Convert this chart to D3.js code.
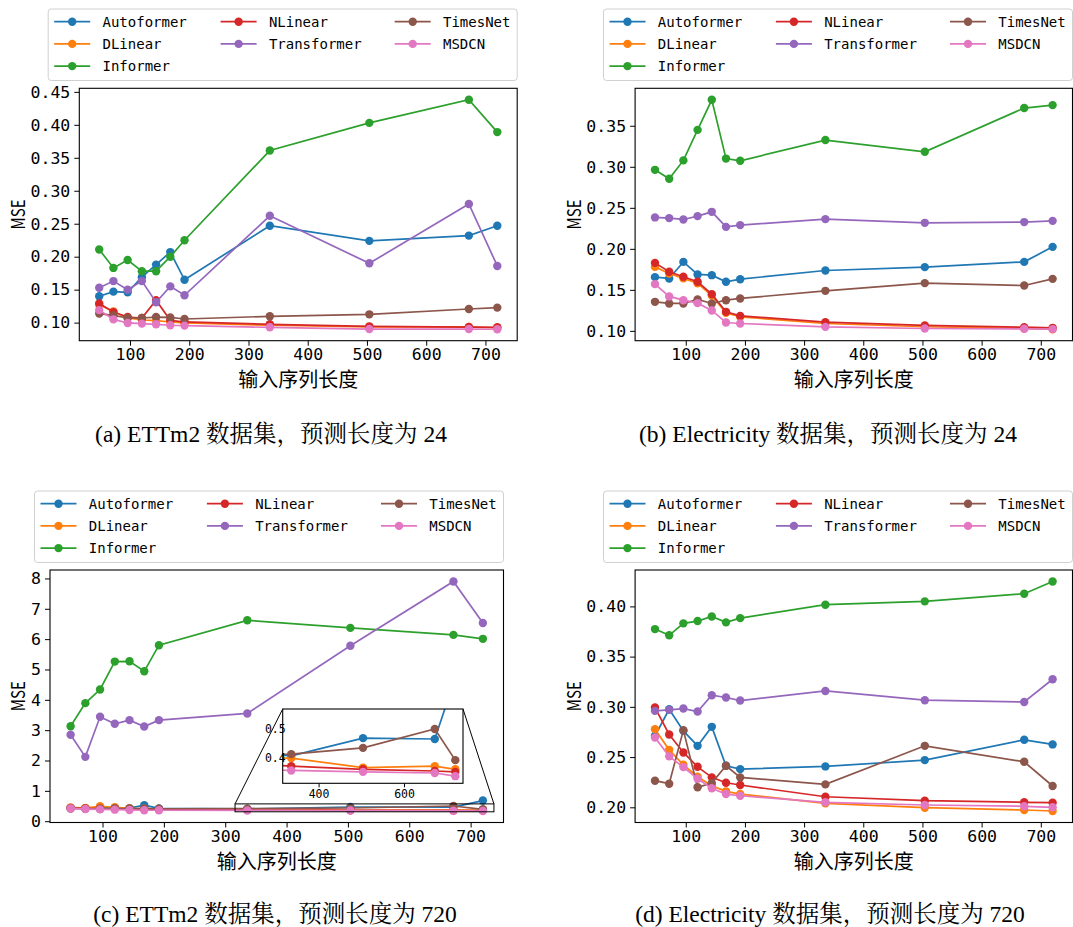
<!DOCTYPE html>
<html><head><meta charset="utf-8">
<script src="https://cdn.jsdelivr.net/npm/d3@7"></script>
<style>body{margin:0;background:#fff}</style>
</head><body>
<svg id="fig" width="1073" height="927"></svg>
<script>
// Input sequence lengths shared by every panel
const inputLengths = [48, 72, 96, 120, 144, 168, 192, 336, 504, 672, 720];
const modelNames = ["Autoformer", "DLinear", "Informer", "NLinear", "Transformer", "TimesNet", "MSDCN"];
const modelColors = ["#1f77b4", "#ff7f0e", "#2ca02c", "#d62728", "#9467bd", "#8c564b", "#e377c2"];
const xTicks = [100, 200, 300, 400, 500, 600, 700];

// MSE per model (rows follow modelNames order)
const ettm2Pred24 = [
  [0.140, 0.147, 0.146, 0.169, 0.188, 0.207, 0.165, 0.247, 0.224, 0.232, 0.247],
  [0.127, 0.117, 0.107, 0.104, 0.103, 0.101, 0.0995, 0.096, 0.0935, 0.0935, 0.092],
  [0.211, 0.183, 0.195, 0.178, 0.178, 0.200, 0.225, 0.361, 0.403, 0.438, 0.389],
  [0.129, 0.116, 0.1085, 0.107, 0.134, 0.1035, 0.101, 0.0975, 0.0944, 0.0933, 0.093],
  [0.153, 0.163, 0.150, 0.163, 0.131, 0.155, 0.1415, 0.262, 0.190, 0.280, 0.186],
  [0.1137, 0.111, 0.107, 0.107, 0.1085, 0.108, 0.1055, 0.1096, 0.1126, 0.1207, 0.1228],
  [0.119, 0.105, 0.0995, 0.0985, 0.0975, 0.096, 0.0955, 0.0929, 0.0903, 0.0903, 0.090]
];
const electricityPred24 = [
  [0.1655, 0.1639, 0.1841, 0.1688, 0.1679, 0.1598, 0.163, 0.1736, 0.1777, 0.1841, 0.2024],
  [0.178, 0.170, 0.164, 0.158, 0.143, 0.122, 0.117, 0.109, 0.105, 0.103, 0.102],
  [0.2963, 0.2854, 0.3078, 0.345, 0.3817, 0.310, 0.3073, 0.3326, 0.3183, 0.3716, 0.3752],
  [0.1829, 0.172, 0.1659, 0.1598, 0.1448, 0.1232, 0.1183, 0.1106, 0.1066, 0.1045, 0.1037],
  [0.2383, 0.2374, 0.2358, 0.2399, 0.2451, 0.2268, 0.2289, 0.2362, 0.2317, 0.2326, 0.2341],
  [0.1354, 0.1334, 0.1334, 0.1383, 0.1334, 0.1374, 0.1395, 0.1488, 0.1582, 0.1553, 0.1634],
  [0.157, 0.142, 0.1374, 0.1338, 0.1249, 0.1102, 0.109, 0.1049, 0.1029, 0.1025, 0.1021]
];
const ettm2Pred720 = [
  [0.44, 0.43, 0.45, 0.44, 0.43, 0.53, 0.42, 0.406, 0.468, 0.465, 0.68],
  [0.45, 0.44, 0.49, 0.46, 0.42, 0.41, 0.40, 0.398, 0.365, 0.37, 0.359],
  [3.13, 3.89, 4.34, 5.26, 5.27, 4.94, 5.80, 6.62, 6.37, 6.14, 6.01],
  [0.43, 0.42, 0.41, 0.41, 0.40, 0.39, 0.38, 0.370, 0.359, 0.353, 0.350],
  [2.85, 2.12, 3.44, 3.21, 3.33, 3.12, 3.33, 3.55, 5.78, 7.90, 6.53],
  [0.42, 0.41, 0.41, 0.42, 0.41, 0.42, 0.41, 0.412, 0.434, 0.500, 0.391],
  [0.42, 0.40, 0.39, 0.38, 0.37, 0.36, 0.36, 0.355, 0.350, 0.346, 0.335]
];
const electricityPred720 = [
  [0.2712, 0.2976, 0.2761, 0.2612, 0.2801, 0.2413, 0.238, 0.2407, 0.247, 0.2672, 0.2626],
  [0.2778, 0.2572, 0.2423, 0.2304, 0.2215, 0.2159, 0.2132, 0.204, 0.1996, 0.1973, 0.1963],
  [0.3774, 0.3712, 0.3831, 0.3854, 0.390, 0.3841, 0.3883, 0.4017, 0.405, 0.4126, 0.4248],
  [0.2993, 0.2725, 0.2546, 0.2403, 0.2298, 0.2244, 0.2222, 0.2105, 0.2066, 0.205, 0.2046],
  [0.296, 0.297, 0.2983, 0.2954, 0.3116, 0.3093, 0.3063, 0.3158, 0.3066, 0.3049, 0.3275],
  [0.2265, 0.2235, 0.2768, 0.2199, 0.2241, 0.2413, 0.2298, 0.2228, 0.2612, 0.2453, 0.2212],
  [0.2695, 0.2507, 0.240, 0.2284, 0.2189, 0.2132, 0.2115, 0.205, 0.2023, 0.201, 0.200]
];

const yTicksA = [0.10, 0.15, 0.20, 0.25, 0.30, 0.35, 0.40, 0.45];
const yTicksB = [0.10, 0.15, 0.20, 0.25, 0.30, 0.35];
const yTicksC = [0, 1, 2, 3, 4, 5, 6, 7, 8];
const yTicksD = [0.20, 0.25, 0.30, 0.35, 0.40];

// Zoomed view inside panel (c)
const insetXRange = [316, 738];
const insetYRange = [0.31, 0.57];
const insetXTicks = [400, 600];
const insetYTicks = [0.4, 0.5];

const captions = [
  "(a) ETTm2 数据集，预测长度为 24",
  "(b) Electricity 数据集，预测长度为 24",
  "(c) ETTm2 数据集，预测长度为 720",
  "(d) Electricity 数据集，预测长度为 720"
];
const xAxisTitle = "输入序列长度";
const yAxisTitle = "MSE";

const panels = [
  {data: ettm2Pred24, yTicks: yTicksA, fmt: d3.format(".2f"), left: 79.3, right: 517.2, top: 88.3, bottom: 340.7, legendTop: 9, capX: 271, capY: 442},
  {data: electricityPred24, yTicks: yTicksB, fmt: d3.format(".2f"), left: 635.1, right: 1072.5, top: 88.3, bottom: 340.7, legendTop: 9, capX: 828, capY: 442},
  {data: ettm2Pred720, yTicks: yTicksC, fmt: d3.format("d"), left: 50, right: 503.5, top: 570, bottom: 822.5, legendTop: 491, capX: 275, capY: 922, inset: true},
  {data: electricityPred720, yTicks: yTicksD, fmt: d3.format(".2f"), left: 635.1, right: 1072.5, top: 570, bottom: 822.5, legendTop: 491, capX: 830, capY: 922}
];

const svg = d3.select("#fig");
const tickFont = "'DejaVu Sans Mono', monospace";
const cjkFont = "'Noto Sans CJK SC', sans-serif";

function padded(lo, hi) {
  const m = (hi - lo) * 0.05;
  return [lo - m, hi + m];
}

function drawSeries(g, data, x, y, r) {
  data.forEach((vals, i) => {
    const pts = inputLengths.map((len, j) => [len, vals[j]]);
    const line = d3.line().x(d => x(d[0])).y(d => y(d[1]));
    g.append("path").attr("d", line(pts)).attr("fill", "none")
      .attr("stroke", modelColors[i]).attr("stroke-width", 1.7);
    g.selectAll(null).data(pts).enter().append("circle")
      .attr("cx", d => x(d[0])).attr("cy", d => y(d[1])).attr("r", r)
      .attr("fill", modelColors[i]);
  });
}

panels.forEach((p, pi) => {
  const allVals = p.data.flat();
  const x = d3.scaleLinear().domain(padded(d3.min(inputLengths), d3.max(inputLengths))).range([p.left, p.right]);
  const y = d3.scaleLinear().domain(padded(d3.min(allVals), d3.max(allVals))).range([p.bottom, p.top]);
  const g = svg.append("g");

  drawSeries(g.append("g"), p.data, x, y, 4.2);

  // axes
  const xAxis = d3.axisBottom(x).tickValues(xTicks).tickSize(5).tickPadding(3).tickFormat(d3.format("d"));
  const yAxis = d3.axisLeft(y).tickValues(p.yTicks).tickSize(5).tickPadding(4).tickFormat(p.fmt);
  const gx = g.append("g").attr("transform", `translate(0,${p.bottom})`).call(xAxis);
  const gy = g.append("g").attr("transform", `translate(${p.left},0)`).call(yAxis);
  [gx, gy].forEach(a => {
    a.select(".domain").remove();
    a.selectAll(".tick line").attr("stroke", "#000").attr("stroke-width", 1);
    a.selectAll(".tick text").attr("fill", "#000").style("font-family", tickFont).style("font-size", "16.5px");
  });
  g.append("rect").attr("x", p.left).attr("y", p.top)
    .attr("width", p.right - p.left).attr("height", p.bottom - p.top)
    .attr("fill", "none").attr("stroke", "#000").attr("stroke-width", 1.1);

  // axis titles
  g.append("text").attr("x", (p.left + p.right) / 2).attr("y", p.bottom + 46)
    .attr("text-anchor", "middle").style("font-family", cjkFont).style("font-size", "20px")
    .text(xAxisTitle);
  const mx = pi % 2 === 0 ? 18 : 574;
  g.append("text").attr("transform", `translate(${mx + 7},${(p.top + p.bottom) / 2}) rotate(-90)`)
    .attr("text-anchor", "middle").style("font-family", cjkFont).style("font-size", "19px")
    .attr("textLength", 30).attr("lengthAdjust", "spacingAndGlyphs")
    .text(yAxisTitle);

  // legend
  const lw = 469, lh = 71.5;
  const lx = p.right - lw, ly = p.legendTop;
  const lg = g.append("g");
  lg.append("rect").attr("x", lx).attr("y", ly).attr("width", lw).attr("height", lh)
    .attr("rx", 3).attr("fill", "#fff").attr("fill-opacity", 0.8)
    .attr("stroke", "#d0d0d0").attr("stroke-width", 1);
  const colX = [6, 172.4, 346.5];
  const layout = [[0, 0], [0, 1], [0, 2], [1, 0], [1, 1], [2, 0], [2, 1]];
  modelNames.forEach((name, i) => {
    const [c, r] = layout[i];
    const hx = lx + colX[c], hy = ly + 12.7 + r * 22.2;
    lg.append("line").attr("x1", hx).attr("x2", hx + 36).attr("y1", hy).attr("y2", hy)
      .attr("stroke", modelColors[i]).attr("stroke-width", 1.7);
    lg.append("circle").attr("cx", hx + 18).attr("cy", hy).attr("r", 4.2).attr("fill", modelColors[i]);
    lg.append("text").attr("x", hx + 48.3).attr("y", hy + 5)
      .style("font-family", tickFont).style("font-size", "14px").text(name);
  });

  // caption
  svg.append("text").attr("x", p.capX).attr("y", p.capY).attr("text-anchor", "middle")
    .style("font-family", "'Liberation Serif', 'Noto Serif CJK SC', 'Noto Sans CJK SC', serif")
    .style("font-size", "23.5px").text(captions[pi]);

  if (p.inset) {
    const box = {left: 282.7, right: 463, top: 709, bottom: 783.3};
    const ix = d3.scaleLinear().domain(insetXRange).range([box.left, box.right]);
    const iy = d3.scaleLinear().domain(insetYRange).range([box.bottom, box.top]);
    // indicator rectangle on the main axes and connector lines
    const rx0 = x(insetXRange[0]), rx1 = x(insetXRange[1]);
    const ry0 = y(insetYRange[1]), ry1 = y(insetYRange[0]);
    g.append("rect").attr("x", rx0).attr("y", ry0).attr("width", rx1 - rx0).attr("height", ry1 - ry0)
      .attr("fill", "none").attr("stroke", "#000").attr("stroke-width", 1);
    g.append("line").attr("x1", rx0).attr("y1", ry0).attr("x2", box.left).attr("y2", box.top)
      .attr("stroke", "#000").attr("stroke-width", 1);
    g.append("line").attr("x1", rx1).attr("y1", ry0).attr("x2", box.right).attr("y2", box.top)
      .attr("stroke", "#000").attr("stroke-width", 1);
    const ig = g.append("g");
    ig.append("rect").attr("x", box.left).attr("y", box.top)
      .attr("width", box.right - box.left).attr("height", box.bottom - box.top).attr("fill", "#fff");
    svg.append("defs").append("clipPath").attr("id", "insetClip").append("rect")
      .attr("x", box.left).attr("y", box.top)
      .attr("width", box.right - box.left).attr("height", box.bottom - box.top);
    drawSeries(ig.append("g").attr("clip-path", "url(#insetClip)"), p.data, ix, iy, 4.2);
    const iax = ig.append("g").attr("transform", `translate(0,${box.bottom})`)
      .call(d3.axisBottom(ix).tickValues(insetXTicks).tickSize(4).tickPadding(3).tickFormat(d3.format("d")));
    const iay = ig.append("g").attr("transform", `translate(${box.left},0)`)
      .call(d3.axisLeft(iy).tickValues(insetYTicks).tickSize(0).tickPadding(-3).tickFormat(d3.format(".1f")));
    [iax, iay].forEach(a => {
      a.select(".domain").remove();
      a.selectAll(".tick line").attr("stroke", "#000");
      a.selectAll(".tick text").attr("fill", "#000").style("font-family", tickFont).style("font-size", "11.5px");
    });
    ig.append("rect").attr("x", box.left).attr("y", box.top)
      .attr("width", box.right - box.left).attr("height", box.bottom - box.top)
      .attr("fill", "none").attr("stroke", "#000").attr("stroke-width", 1.1);
  }
});
</script>
</body></html>
